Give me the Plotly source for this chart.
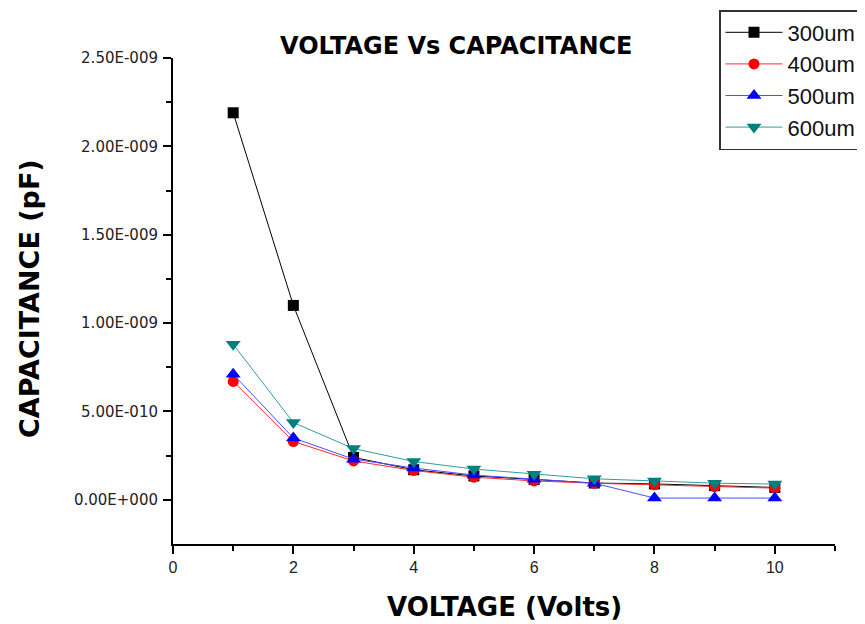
import plotly.graph_objects as go

voltage = [1, 2, 3, 4, 5, 6, 7, 8, 9, 10]
cap_300um = [2.19e-9, 1.10e-9, 0.24e-9, 0.17e-9, 0.135e-9, 0.115e-9, 0.095e-9, 0.09e-9, 0.08e-9, 0.07e-9]
cap_400um = [0.67e-9, 0.33e-9, 0.22e-9, 0.166e-9, 0.128e-9, 0.107e-9, 0.094e-9, 0.085e-9, 0.075e-9, 0.066e-9]
cap_500um = [0.71e-9, 0.35e-9, 0.23e-9, 0.18e-9, 0.14e-9, 0.117e-9, 0.094e-9, 0.01e-9, 0.01e-9, 0.01e-9]
cap_600um = [0.88e-9, 0.437e-9, 0.29e-9, 0.217e-9, 0.174e-9, 0.145e-9, 0.119e-9, 0.107e-9, 0.094e-9, 0.089e-9]

series_names = ["300um", "400um", "500um", "600um"]

y_tickvals = [0, 0.5e-9, 1.0e-9, 1.5e-9, 2.0e-9, 2.5e-9]
y_ticktext = ["0.00E+000", "5.00E-010", "1.00E-009", "1.50E-009", "2.00E-009", "2.50E-009"]
y_minorvals = [0.25e-9, 0.75e-9, 1.25e-9, 1.75e-9, 2.25e-9]
x_tickvals = [0, 2, 4, 6, 8, 10]
x_ticktext = ["0", "2", "4", "6", "8", "10"]
x_minorvals = [1, 3, 5, 7, 9, 11]

title_text = "VOLTAGE Vs CAPACITANCE"
x_title = "VOLTAGE (Volts)"
y_title = "CAPACITANCE (pF)"

styles = [
    dict(symbol="square", mcolor="#000000", lcolor="#000000", size=11),
    dict(symbol="circle", mcolor="#ff0000", lcolor="#ff2a2a", size=11),
    dict(symbol="triangle-up", mcolor="#0000ff", lcolor="#4d4dff", size=13),
    dict(symbol="triangle-down", mcolor="#007f7f", lcolor="#2e9e9e", size=13),
]

fig = go.Figure()
for name, ys, st in zip(series_names, [cap_300um, cap_400um, cap_500um, cap_600um], styles):
    fig.add_trace(go.Scatter(
        x=voltage, y=ys, name=name, mode="lines+markers",
        line=dict(color=st["lcolor"], width=1),
        marker=dict(symbol=st["symbol"], color=st["mcolor"], size=st["size"], line=dict(width=0)),
    ))

# plot area on the page: x 173..835, y 58..544 (page has an 8px body margin)
PX0, PX1, PY0, PY1 = 173, 835, 58, 544


def px(xp):
    return (xp - PX0) / (PX1 - PX0)


def py(yp):
    return (PY1 - yp) / (PY1 - PY0)


ytick_font = dict(family="DejaVu Sans, sans-serif", size=15, color="#222222")
xtick_font = dict(family="Liberation Sans, Arial, sans-serif", size=16, color="#222222")
bold_font = "DejaVu Sans, Liberation Sans, sans-serif"

fig.update_layout(
    width=865, height=624,
    margin=dict(l=165, r=38, t=50, b=88, autoexpand=False),
    paper_bgcolor="white", plot_bgcolor="white",
    showlegend=True,
    legend=dict(
        x=px(719), y=py(10), xanchor="left", yanchor="top",
        bgcolor="white", bordercolor="#333333", borderwidth=1.5,
        font=dict(family="Liberation Sans, Arial, sans-serif", size=22, color="#111111"),
        itemwidth=57, tracegroupgap=0,
    ),
    xaxis=dict(
        range=[0, 11], showline=True, linecolor="black", linewidth=2,
        showgrid=False, zeroline=False, mirror=False,
        tickmode="array", tickvals=x_tickvals, ticktext=x_ticktext,
        ticks="outside", ticklen=8, tickwidth=2, tickcolor="black",
        tickfont=xtick_font, ticklabelstandoff=0,
        minor=dict(tickmode="array", tickvals=x_minorvals, ticks="outside", ticklen=5, tickwidth=2, tickcolor="black"),
    ),
    yaxis=dict(
        range=[-0.25e-9, 2.5e-9], showline=True, linecolor="black", linewidth=2,
        showgrid=False, zeroline=False, mirror=False,
        tickmode="array", tickvals=y_tickvals, ticktext=y_ticktext,
        ticks="outside", ticklen=8, tickwidth=2, tickcolor="black",
        tickfont=ytick_font, ticklabelstandoff=2,
        minor=dict(tickmode="array", tickvals=y_minorvals, ticks="outside", ticklen=5, tickwidth=2, tickcolor="black"),
    ),
    annotations=[
        dict(text=title_text, x=px(456.5), y=py(46), xref="paper", yref="paper",
             xanchor="center", yanchor="middle", showarrow=False,
             font=dict(family=bold_font, size=24, color="black", weight="bold")),
        dict(text=x_title, x=px(504), y=py(607), xref="paper", yref="paper",
             xanchor="center", yanchor="middle", showarrow=False,
             font=dict(family=bold_font, size=26, color="black", weight="bold")),
        dict(text=y_title, x=px(29), y=py(299), xref="paper", yref="paper",
             xanchor="center", yanchor="middle", showarrow=False, textangle=-90,
             font=dict(family=bold_font, size=27, color="black", weight="bold")),
    ],
)

fig.write_html("out.html")
